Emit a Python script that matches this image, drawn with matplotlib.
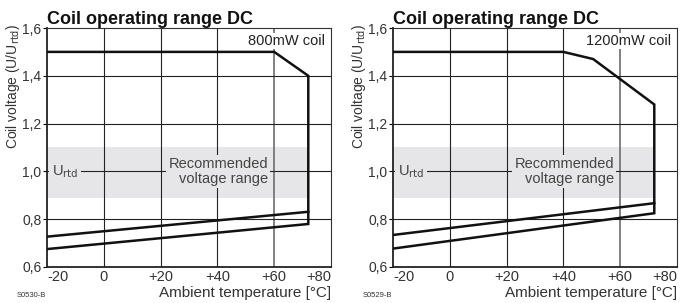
import matplotlib
matplotlib.use("Agg")
import matplotlib.pyplot as plt

plt.rcParams['font.family'] = ['Liberation Sans', 'DejaVu Sans']

# shared axis values
xticks = [-20, 0, 20, 40, 60, 80]
xticklabels = ['-20', '0', '+20', '+40', '+60', '+80']
yticks = [0.6, 0.8, 1.0, 1.2, 1.4, 1.6]
yticklabels = ['0,6', '0,8', '1,0', '1,2', '1,4', '1,6']
band_x = [-20, 72]
band_y = [0.89, 1.1]

# 800mW coil
coil800_env_x = [-20, 60, 72, 72, -20]
coil800_env_y = [1.5, 1.5, 1.4, 0.78, 0.675]
coil800_low_x = [-20, 72]
coil800_low_y = [0.727, 0.831]

# 1200mW coil
coil1200_env_x = [-20, 40, 50.5, 72, 72, -20]
coil1200_env_y = [1.5, 1.5, 1.47, 1.28, 0.825, 0.677]
coil1200_low_x = [-20, 72]
coil1200_low_y = [0.734, 0.867]

panels = [
    ('800mW coil', 'S0530-B', coil800_env_x, coil800_env_y, coil800_low_x, coil800_low_y),
    ('1200mW coil', 'S0529-B', coil1200_env_x, coil1200_env_y, coil1200_low_x, coil1200_low_y),
]

fig = plt.figure(figsize=(6.88, 3.03), dpi=100)
lefts = [47 / 688, 393 / 688]
width = 284 / 688
bottom = 36 / 303
height = 239 / 303

band_col = '#e6e6e8'

for i, (coil, code, ex, ey, lx, ly) in enumerate(panels):
    ax = fig.add_axes([lefts[i], bottom, width, height])
    ax.set_xlim(-20, 80)
    ax.set_ylim(0.6, 1.6)

    ax.fill_between(band_x, band_y[0], band_y[1], color=band_col, lw=0, zorder=0)

    for x in [0, 20, 40]:
        ax.axvline(x, color='#222222', lw=0.8, zorder=1)
    ax.axvline(60, color='#777777', lw=1.3, zorder=1)
    for y in [0.8, 1.0, 1.2, 1.4]:
        ax.axhline(y, color='#222222', lw=0.8, zorder=1)

    ax.plot(ex, ey, color='#111111', lw=1.8, zorder=3, solid_joinstyle='miter')
    ax.plot(lx, ly, color='#111111', lw=1.8, zorder=3)

    ax.text(-18.3, 1.0, r'U$_{\rm rtd}$', fontsize=10.5, color='#444444', va='center', ha='left',
            zorder=4, bbox=dict(facecolor=band_col, edgecolor='none', pad=2))
    ax.text(57.8, 1.0, 'Recommended\nvoltage range', fontsize=10.5, color='#444444',
            va='center', ha='right', linespacing=1.05, zorder=4,
            bbox=dict(facecolor=band_col, edgecolor='none', pad=1.5))
    ax.text(78, 1.545, coil, fontsize=10.5, color='#222222', ha='right', va='center', zorder=4,
            bbox=dict(facecolor='white', edgecolor='none', pad=0.5))

    for s in ['left', 'bottom']:
        ax.spines[s].set_linewidth(1.3)
        ax.spines[s].set_color('#222222')
    for s in ['top', 'right']:
        ax.spines[s].set_linewidth(0.8)
        ax.spines[s].set_color('#333333')

    ax.set_yticks(yticks)
    ax.set_yticklabels(yticklabels, fontsize=10, color='#333333')
    ax.set_xticks(xticks)
    ax.set_xticklabels(xticklabels, fontsize=10.5, color='#333333')
    labs = ax.get_xticklabels()
    labs[0].set_ha('left')
    labs[-1].set_ha('right')
    ax.tick_params(axis='y', length=3, width=0.8, pad=1)
    ax.tick_params(axis='x', length=0, pad=2)

    ax.set_ylabel(r'Coil voltage (U/U$_{\rm rtd}$)', fontsize=10, color='#333333')
    ax.yaxis.set_label_coords(-0.088, 0.755)
    ax.text(1.0, -0.109, 'Ambient temperature [°C]', transform=ax.transAxes, ha='right',
            va='center', fontsize=11, color='#333333')
    ax.text(-0.105, -0.121, code, transform=ax.transAxes, ha='left', va='center',
            fontsize=5.5, color='#333333')
    ax.text(0.0, 1.017, 'Coil operating range DC', transform=ax.transAxes, ha='left',
            va='baseline', fontsize=13, fontweight='bold', color='#111111')

fig.savefig('out.png', dpi=100)
